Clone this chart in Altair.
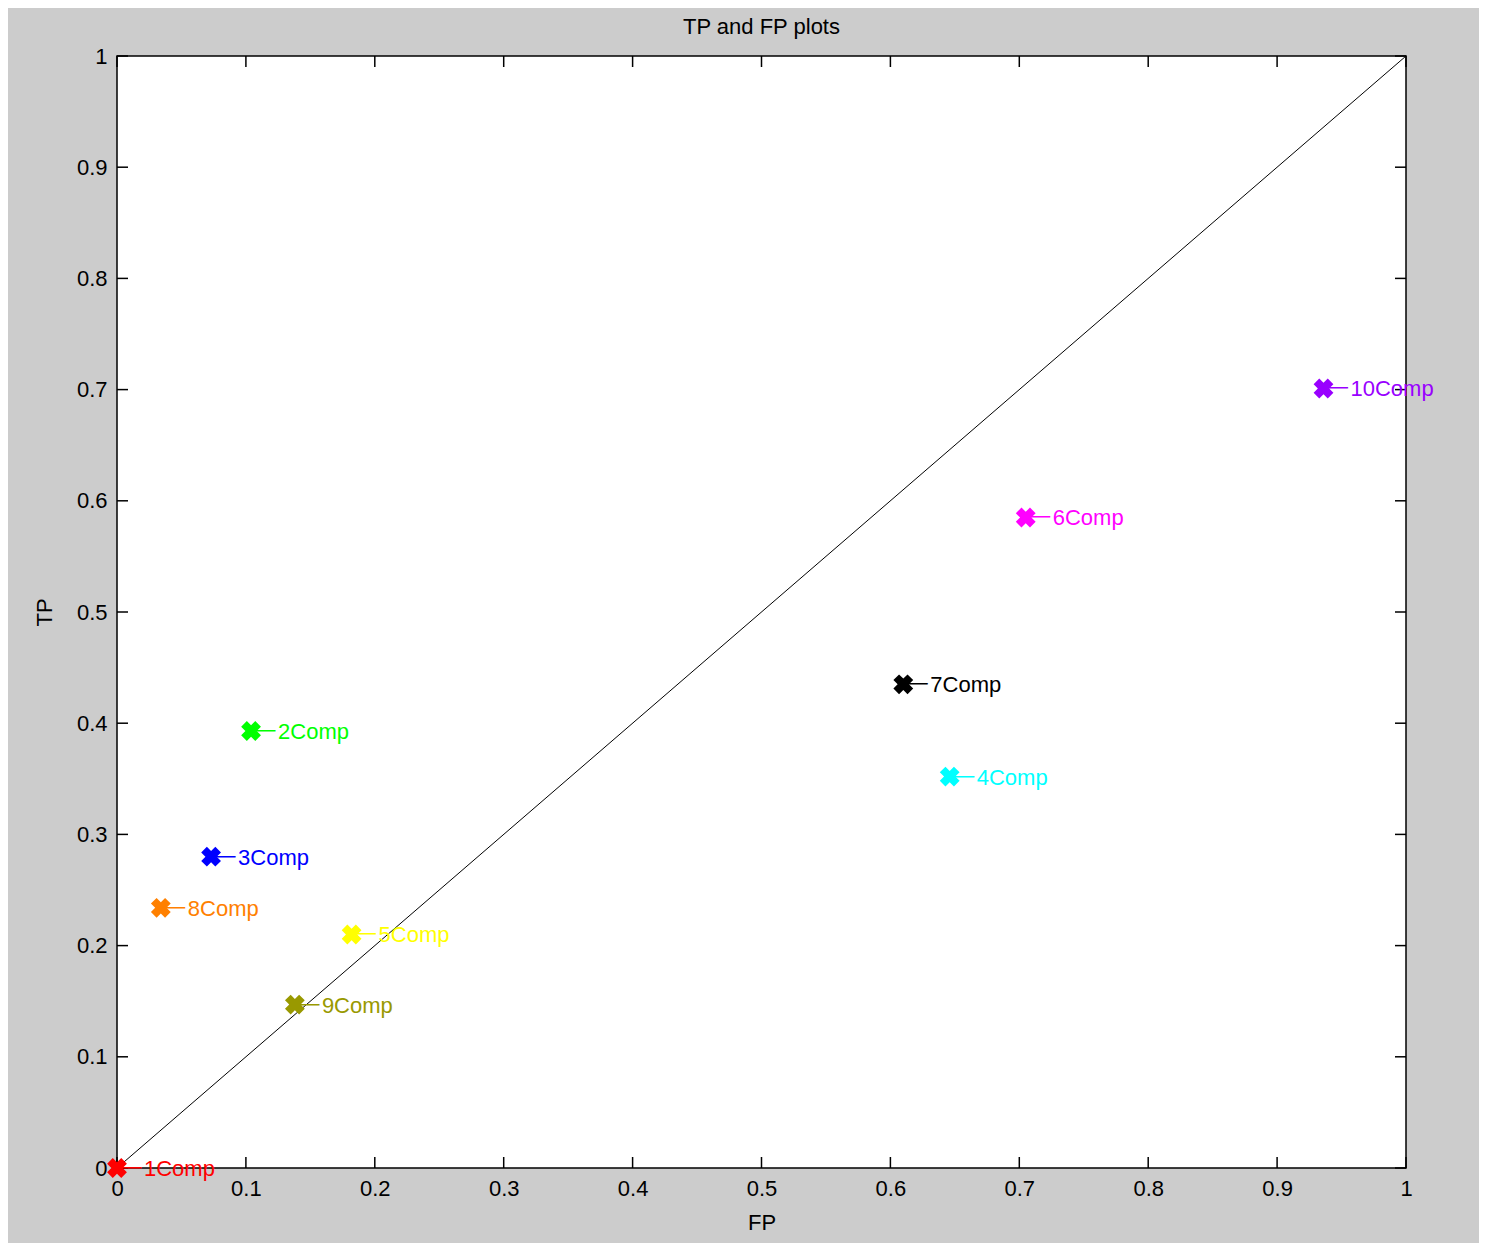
import pandas as pd
import altair as alt

# values
labels = ['1Comp', '2Comp', '3Comp', '4Comp', '5Comp',
          '6Comp', '7Comp', '8Comp', '9Comp', '10Comp']
fp = [0.0, 0.104, 0.073, 0.646, 0.182, 0.705, 0.610, 0.034, 0.138, 0.936]
tp = [0.0, 0.393, 0.280, 0.352, 0.210, 0.585, 0.435, 0.234, 0.147, 0.701]
colors = ['#ff0000', '#00ff00', '#0000ff', '#00ffff', '#ffff00',
          '#ff00ff', '#000000', '#ff8000', '#999900', '#9900ff']

diag_x = [0.0, 1.0]
diag_y = [0.0, 1.0]
tick_values = [0, 0.1, 0.2, 0.3, 0.4, 0.5, 0.6, 0.7, 0.8, 0.9, 1]

W, H = 1289, 1112
FONT = 'Liberation Sans'
TICK = 11

df = pd.DataFrame({'label': labels, 'fp': fp, 'tp': tp})
diag = pd.DataFrame({'fp': diag_x, 'tp': diag_y})
ticks = pd.DataFrame({'t': tick_values})

xs = alt.Scale(domain=[0, 1], nice=False, zero=False)
ys = alt.Scale(domain=[0, 1], nice=False, zero=False)
xa = alt.Axis(title='FP', values=tick_values, format='~g', ticks=False, domain=False,
              grid=False, labelFlush=False, labelOverlap=False, labelPadding=10,
              labelFontSize=22, labelFont=FONT, labelColor='black',
              titleFontSize=22, titleFont=FONT, titleFontWeight='normal',
              titleColor='black', titlePadding=13)
ya = alt.Axis(title='TP', values=tick_values, format='~g', ticks=False, domain=False,
              grid=False, labelFlush=False, labelOverlap=False, labelPadding=10,
              labelFontSize=22, labelFont=FONT, labelColor='black',
              titleFontSize=22, titleFont=FONT, titleFontWeight='normal',
              titleColor='black', titlePadding=20)
color = alt.Color('label:N', scale=alt.Scale(domain=labels, range=colors), legend=None)
X = alt.X('fp:Q', scale=xs, axis=xa)
Y = alt.Y('tp:Q', scale=ys, axis=ya)

diag_line = alt.Chart(diag).mark_line(color='black', strokeWidth=1).encode(x=X, y=Y)

tx = alt.X('t:Q', scale=xs, axis=xa)
ty = alt.Y('t:Q', scale=ys, axis=ya)
tick_style = dict(color='black', strokeWidth=1.5)
bottom_ticks = alt.Chart(ticks).mark_rule(**tick_style).encode(
    x=tx, y=alt.value(H), y2=alt.value(H - TICK))
top_ticks = alt.Chart(ticks).mark_rule(**tick_style).encode(
    x=tx, y=alt.value(0), y2=alt.value(TICK))
left_ticks = alt.Chart(ticks).mark_rule(**tick_style).encode(
    y=ty, x=alt.value(0), x2=alt.value(TICK))
right_ticks = alt.Chart(ticks).mark_rule(**tick_style).encode(
    y=ty, x=alt.value(W), x2=alt.value(W - TICK))

arrows = alt.Chart(df).mark_text(
    align='left', baseline='middle', dx=1, dy=0, fontSize=17, font='DejaVu Sans'
).encode(x=X, y=Y, text=alt.value('\u27f5'), color=color)

text = alt.Chart(df).mark_text(
    align='left', baseline='middle', dx=27, dy=1, fontSize=22, font=FONT
).encode(x=X, y=Y, text='label:N', color=color)

points = alt.Chart(df).mark_point(
    shape='cross', angle=45, filled=True, size=400, opacity=1
).encode(x=X, y=Y, color=color)

chart = alt.layer(
    diag_line, bottom_ticks, top_ticks, left_ticks, right_ticks, arrows, text, points
).properties(
    width=W,
    height=H,
    title=alt.TitleParams('TP and FP plots', fontSize=22, font=FONT,
                          fontWeight='normal', color='black', offset=6),
    background='#cccccc',
    padding={'left': 109, 'top': 48, 'right': 73, 'bottom': 75},
    autosize=alt.AutoSizeParams(type='none')
).configure_view(
    stroke='black', strokeWidth=1.5, fill='white'
)

chart.save("out.html", embed_options={"renderer": "svg", "actions": False})
